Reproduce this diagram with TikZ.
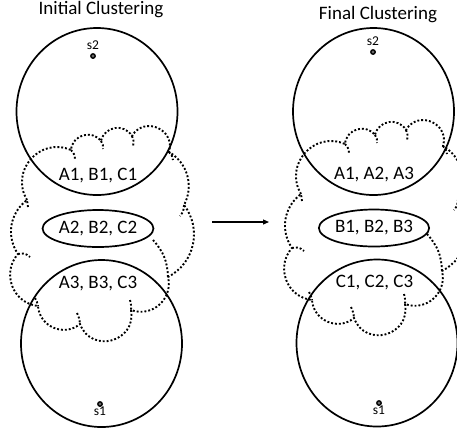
\documentclass[tikz,border=0pt]{standalone}
\usepackage{fontspec}
\setmainfont{Carlito}
\usetikzlibrary{arrows.meta,shapes.geometric,positioning}
\tikzset{
  region/.style={ellipse,draw,line width=1.7pt,minimum width=161pt,minimum height=167pt,inner sep=0pt},
  core/.style={ellipse,draw,line width=1.7pt,minimum width=98pt,minimum height=37pt,inner sep=0pt,font=\fontsize{19}{20}\selectfont},
  members/.style={font=\fontsize{19}{20}\selectfont,inner sep=0pt,anchor=base},
  seed/.style={circle,draw,line width=1.3pt,fill=black!60,minimum size=4.5pt,inner sep=0pt},
  seedlabel/.style={font=\fontsize{13.5}{14}\selectfont,inner sep=0pt},
  cloudline/.style={line width=1.9pt,dash pattern=on 1.9pt off 2pt},
  flow/.style={line width=1.2pt,-{Triangle[length=6pt,width=5pt]}}
}

\begin{document}
\begin{tikzpicture}[x=1pt,y=-1pt]
  \clip (0,0) rectangle (457,432);

  \foreach \dx/\dy in {0/0,274/-6}{
    \begin{scope}[shift={(\dx,\dy)}]
      \draw[cloudline] (27,200) to[bend left=72,looseness=1.3] (71,150)
        to[bend left=68,looseness=1.24] (101,141)
        to[bend left=68,looseness=1.24] (132,136)
        to[bend left=83,looseness=1.5] (169,152)
        to[bend left=44] (184,205)
        to[bend left=50,looseness=1.04] (168,277)
        to[bend left=62,looseness=1.16] (131,310)
        to[bend left=85,looseness=1.56] (80,324)
        to[bend left=63,looseness=1.16] (38,306)
        to[bend left=63,looseness=1.16] (18,254)
        to[bend left=44] (27,200);
      \draw[cloudline] (71,150) to[bend left=20] (75,159)
        (101,141) to[bend left=20] (103,149)
        (132,136) to[bend left=20] (133,146)
        (169,152) to[bend left=20] (173,160)
        (184,205) to[bend left=20] (180,216)
        (153,240) to[bend left=20] (168,277)
        (130,300) to[bend left=10] (131,310)
        (77,313) to[bend left=10] (80,324)
        (35,298) to[bend left=10] (38,306)
        (18,254) to[bend left=30] (30,257)
        (28,207) -- (27,200);
    \end{scope}
  }

  \node[members] (title1) at (101,14) {Initial Clustering};
  \node[region] (top1) at (97,111.5) {};
  \node[region] (bot1) at (101.5,343.5) {};
  \node[core] (mid1) at (98,228.5) {A2, B2, C2};
  \node[members] (up1) at (98,180) {A1, B1, C1};
  \node[members] (low1) at (98,288) {A3, B3, C3};
  \node[seed] (s2a) at (93,56) {};
  \node[seedlabel,above=3pt of s2a] (s2alabel) {s2};
  \node[seed] (s1a) at (100,404) {};
  \node[seedlabel,below=0pt of s1a] (s1alabel) {s1};

  \node[members] (title2) at (378,19) {Final Clustering};
  \node[region] (top2) at (373.5,111.5) {};
  \node[region] (bot2) at (377,343) {};
  \node[core] (mid2) at (374,228) {B1, B2, B3};
  \node[members] (up2) at (374,179) {A1, A2, A3};
  \node[members] (low2) at (374.5,287) {C1, C2, C3};
  \node[seed] (s2b) at (373,52) {};
  \node[seedlabel,above=3pt of s2b] (s2blabel) {s2};
  \node[seed] (s1b) at (379,403) {};
  \node[seedlabel,below=0pt of s1b] (s1blabel) {s1};

  \coordinate (shiftstart) at (212,222);
  \coordinate (shiftend) at (269,222);
  \draw[flow] (shiftstart) -- (shiftend);
\end{tikzpicture}
\end{document}
